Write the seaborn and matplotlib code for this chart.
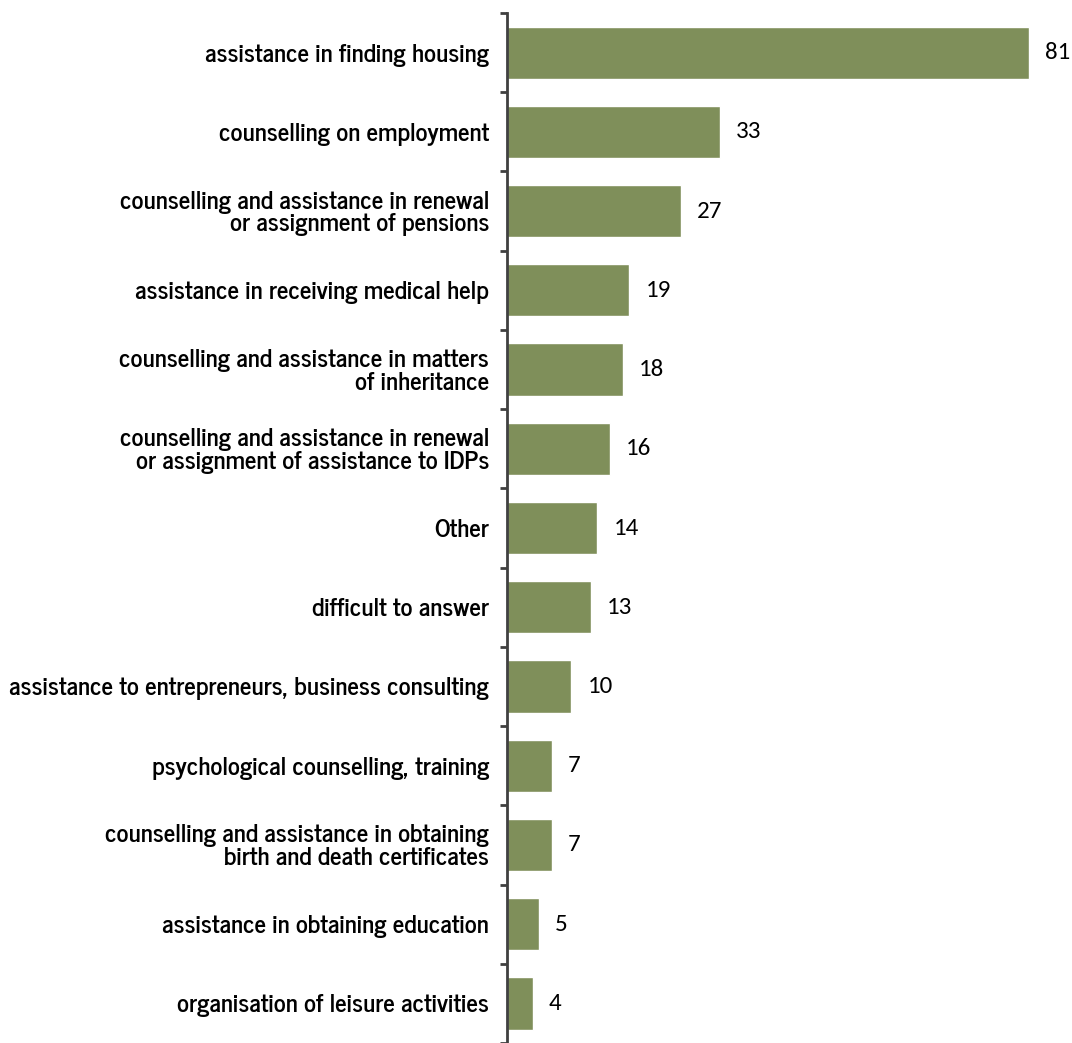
import matplotlib
matplotlib.use("Agg")
import matplotlib.pyplot as plt
import seaborn as sns
import pandas as pd
import numpy as np

categories = [
    "assistance in finding housing",
    "counselling on employment",
    "counselling and assistance in renewal\nor assignment of pensions",
    "assistance in receiving medical help",
    "counselling and assistance in matters\nof inheritance",
    "counselling and assistance in renewal\nor assignment of assistance to IDPs",
    "Other",
    "difficult to answer",
    "assistance to entrepreneurs, business consulting",
    "psychological counselling, training",
    "counselling and assistance in obtaining\nbirth and death certificates",
    "assistance in obtaining education",
    "organisation of leisure activities",
]
values = [81, 33, 27, 19, 18, 16, 14, 13, 10, 7, 7, 5, 4]

sns.set_theme(style="white")
plt.rcParams["font.family"] = ["News Cycle", "DejaVu Sans"]

df = pd.DataFrame({"category": categories, "value": values})

fig = plt.figure(figsize=(10.72, 10.43), dpi=100)
ax = fig.add_axes([0.473, 0.0, 0.527, 0.9875])

sns.barplot(data=df, y="category", x="value", orient="h", color="#7F8F5A",
            saturation=1, width=0.66, ax=ax)

ax.set_xlim(0, 87.7)
ax.set_ylim(len(categories) - 0.5, -0.5)
ax.set_xlabel("")
ax.set_ylabel("")
ax.set_xticks([])

for sp in ["top", "right", "bottom"]:
    ax.spines[sp].set_visible(False)
ax.spines["left"].set_color("#404040")
ax.spines["left"].set_linewidth(2)

ax.set_yticks(np.arange(len(categories)))
ax.set_yticklabels(categories, fontsize=18, fontweight="bold", linespacing=0.98,
                   color="black")
ax.tick_params(axis="y", which="major", left=False, length=0, pad=13)
ax.set_yticks(np.arange(len(categories) + 1) - 0.5, minor=True)
ax.tick_params(axis="y", which="minor", left=True, length=5, width=2,
               color="#404040", direction="out")
for lbl in ax.get_yticklabels():
    lbl.set_horizontalalignment("right")
    lbl.set_multialignment("right")

for i, v in enumerate(values):
    ax.text(v + 2.5, i, str(v), va="center", ha="left", fontsize=18,
            family=["Carlito", "DejaVu Sans"], color="black")

fig.savefig("out.png", dpi=100)
